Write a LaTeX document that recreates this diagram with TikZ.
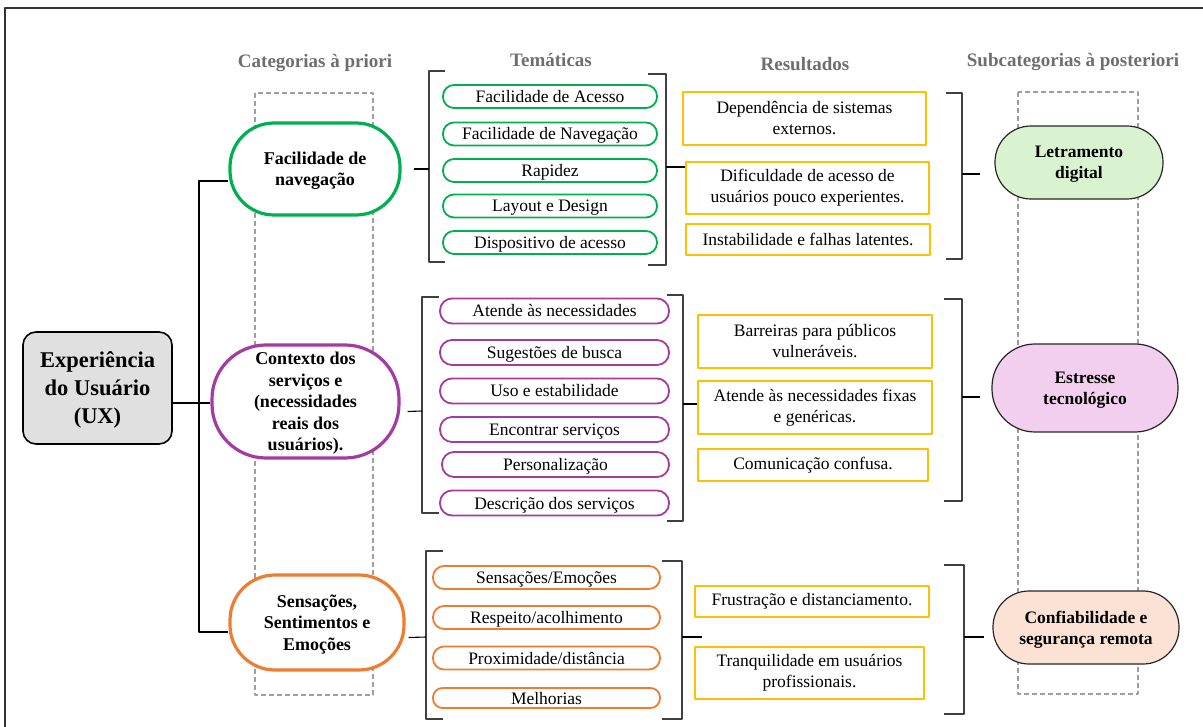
\documentclass[tikz,border=0pt]{standalone}
\usepackage{fontspec}
\setmainfont{Liberation Serif}
\usepackage{tikz}
\usetikzlibrary{calc}
\definecolor{cgreen}{HTML}{00B050}
\definecolor{cpurple}{HTML}{A33BA3}
\definecolor{corange}{HTML}{ED7D31}
\definecolor{cyellow}{HTML}{FFC000}
\definecolor{hdrgray}{HTML}{6E6E6E}
\definecolor{uxgray}{HTML}{E0E0E0}
\definecolor{fgreen}{HTML}{D9F2D0}
\definecolor{fpink}{HTML}{F2CFEE}
\definecolor{fpeach}{HTML}{FBE2D5}

\begin{document}
\begin{tikzpicture}[x=1pt,y=-1pt,line join=round,
  hdr/.style={font=\fontsize{19}{22}\selectfont\bfseries,text=hdrgray},
  cat/.style={draw,line width=3.2pt,fill=white,align=center,inner sep=0pt,text depth=-3pt,
    font=\fontsize{18}{21.5}\selectfont\bfseries},
  thm/.style={draw,line width=1.8pt,fill=white,inner sep=0pt,minimum height=23pt,
    rounded corners=11pt,text height=14pt,text depth=2pt,font=\fontsize{17.5}{21}\selectfont},
  thmA/.style={thm,draw=cgreen,minimum width=214pt},
  thmB/.style={thm,draw=cpurple,minimum width=229pt,minimum height=25pt,rounded corners=12pt},
  thmC/.style={thm,draw=corange,minimum width=227pt},
  res/.style={draw=cyellow,line width=1.5pt,inner sep=0pt,align=center,
    font=\fontsize{17.5}{21}\selectfont},
  sub/.style={draw=black!85,line width=1.2pt,align=center,inner sep=0pt,text depth=-2pt,
    font=\fontsize{17.5}{21}\selectfont\bfseries},
  brk/.style={draw=black!75,line width=1.6pt},
  link/.style={draw,line width=1.1pt},
  guide/.style={draw=black!38,dash pattern=on 5pt off 3pt,line width=1.3pt}]
\useasboundingbox (0,0) rectangle (1203,727);
\draw[line width=1.2pt,black!80] (1215,8) -- (5,8) -- (5,740);
% colunas tracejadas
\draw[guide] (255,93) rectangle (373,695);
\draw[guide] (1018,92) rectangle (1138,694);
% titulos
\node[hdr] (hCat) at (315,63) {Categorias à priori};
\node[hdr] (hThm) at (551,60) {Temáticas};
\node[hdr] (hRes) at (805,64) {Resultados};
\node[hdr] (hSub) at (1073,62) {Subcategorias à posteriori};
% raiz e categorias
\node[draw,line width=1.6pt,fill=uxgray,rounded corners=13pt,minimum width=149pt,minimum height=112pt,
  align=center,inner sep=0pt,text depth=-4.5pt,font=\fontsize{22.5}{28}\selectfont\bfseries] (UX) at (97.5,388)
  {Experiência\\do Usuário\\(UX)};
\node[cat,draw=cgreen,minimum width=170pt,minimum height=92pt,rounded corners=44pt] (catA) at (315,169)
  {Facilidade de\\navegação};
\node[cat,draw=cpurple,minimum width=187pt,minimum height=113pt,rounded corners=54pt] (catB) at (305.5,401.5)
  {Contexto dos\\serviços e\\(necessidades\\reais dos\\usuários).};
\node[cat,draw=corange,minimum width=174pt,minimum height=95pt,rounded corners=45pt] (catC) at (317,622.5)
  {Sensações,\\Sentimentos e\\Emoções};
\coordinate (jA) at (199,181);
\coordinate (jB) at (199,403);
\coordinate (jC) at (199,632);
\draw[link] (UX.east |- jB) -- (catB.west |- jB);
\draw[link] (catA.west |- jA) -- (jA) -- (jC) -- (catC.west |- jC);
% tematicas
\node[thmA] (tA1) at (550,96.5) {Facilidade de Acesso};
\node[thmA] (tA2) at (550,134) {Facilidade de Navegação};
\node[thmA] (tA3) at (550,170.5) {Rapidez};
\node[thmA] (tA4) at (550,206) {Layout e Design};
\node[thmA] (tA5) at (550,242.5) {Dispositivo de acesso};
\node[thmB] (tB1) at (554.5,311) {Atende às necessidades};
\node[thmB] (tB2) at (554.5,352.5) {Sugestões de busca};
\node[thmB] (tB3) at (554.5,391) {Uso e estabilidade};
\node[thmB] (tB4) at (554.5,429.5) {Encontrar serviços};
\node[thmB,minimum width=227pt] (tB5) at (555.5,464.5) {Personalização};
\node[thmB] (tB6) at (554.5,503) {Descrição dos serviços};
\node[thmC] (tC1) at (546.5,577.5) {Sensações/Emoções};
\node[thmC] (tC2) at (546.5,617.5) {Respeito/acolhimento};
\node[thmC] (tC3) at (546.5,658) {Proximidade/distância};
\node[thmC,minimum height=20pt,rounded corners=9.5pt] (tC4) at (546.5,698) {Melhorias};
% colchetes das tematicas
\coordinate (inA) at (429,169);  \coordinate (outA) at (666,167);
\coordinate (inB) at (422,411);  \coordinate (outB) at (683,404);
\coordinate (inC) at (426,637);  \coordinate (outC) at (682,637);
\draw[brk] (445,71) -- (429,71) -- (429,262) -- (445,262);
\draw[brk] (648,74) -- (666,74) -- (666,265) -- (648,265);
\draw[brk] (439,297) -- (422,297) -- (422,513) -- (439,513);
\draw[brk] (667,295) -- (683,295) -- (683,521) -- (667,521);
\draw[brk] (443,551) -- (426,551) -- (426,719) -- (443,719);
\draw[brk] (662,561) -- (682,561) -- (682,719) -- (662,719);
\draw[link] ([xshift=12pt]catA.east) -- (inA);
\draw[link] ([xshift=7pt,yshift=-10pt]catB.east) -- (inB);
\draw[link] ([xshift=3pt,yshift=-15pt]catC.east) -- (inC);
% resultados
\node[res,minimum width=243pt,minimum height=53pt] (r1) at (804.5,118.5) {Dependência de sistemas\\externos.};
\node[res,minimum width=243pt,minimum height=52pt] (r2) at (807.5,188) {Dificuldade de acesso de\\usuários pouco experientes.};
\node[res,minimum width=244pt,minimum height=31pt] (r3) at (808,239.5) {Instabilidade e falhas latentes.};
\node[res,minimum width=234pt,minimum height=53pt] (r4) at (815,341.5) {Barreiras para públicos\\vulneráveis.};
\node[res,minimum width=234pt,minimum height=53pt] (r5) at (815,407.5) {Atende às necessidades fixas\\e genéricas.};
\node[res,minimum width=230pt,minimum height=32pt] (r6) at (813,465) {Comunicação confusa.};
\node[res,minimum width=234pt,minimum height=31pt] (r7) at (812,601.5) {Frustração e distanciamento.};
\node[res,minimum width=229pt,minimum height=52pt] (r8) at (809.5,673) {Tranquilidade em usuários\\profissionais.};
\draw[link] (outA) -- (r2.west |- outA);
\draw[link] (outB) -- (r5.west |- outB);
\draw[link] (outC) -- ++(20,0);
% colchetes dos resultados
\draw[brk] (946,93) -- (962,93) -- (962,259) -- (946,259);
\draw[brk] (944,299) -- (962,299) -- (962,501) -- (944,501);
\draw[brk] (944,565) -- (964,565) -- (964,714) -- (944,714);
\coordinate (sA) at (980,174);
\coordinate (sB) at (980,397);
\coordinate (sC) at (984,637);
\draw[link] (962,174) -- (sA);
\draw[link] (962,397) -- (sB);
\draw[link] (964,637) -- (sC);
% subcategorias
\node[sub,fill=fgreen,minimum width=168pt,minimum height=73pt,rounded corners=36pt] (s1) at (1079,162.5) {Letramento\\digital};
\node[sub,fill=fpink,minimum width=186pt,minimum height=88pt,rounded corners=43pt] (s2) at (1085,388) {Estresse\\tecnológico};
\node[sub,fill=fpeach,minimum width=186pt,minimum height=73pt,rounded corners=36pt] (s3) at (1086,627.5) {Confiabilidade e\\segurança remota};
\end{tikzpicture}
\end{document}
